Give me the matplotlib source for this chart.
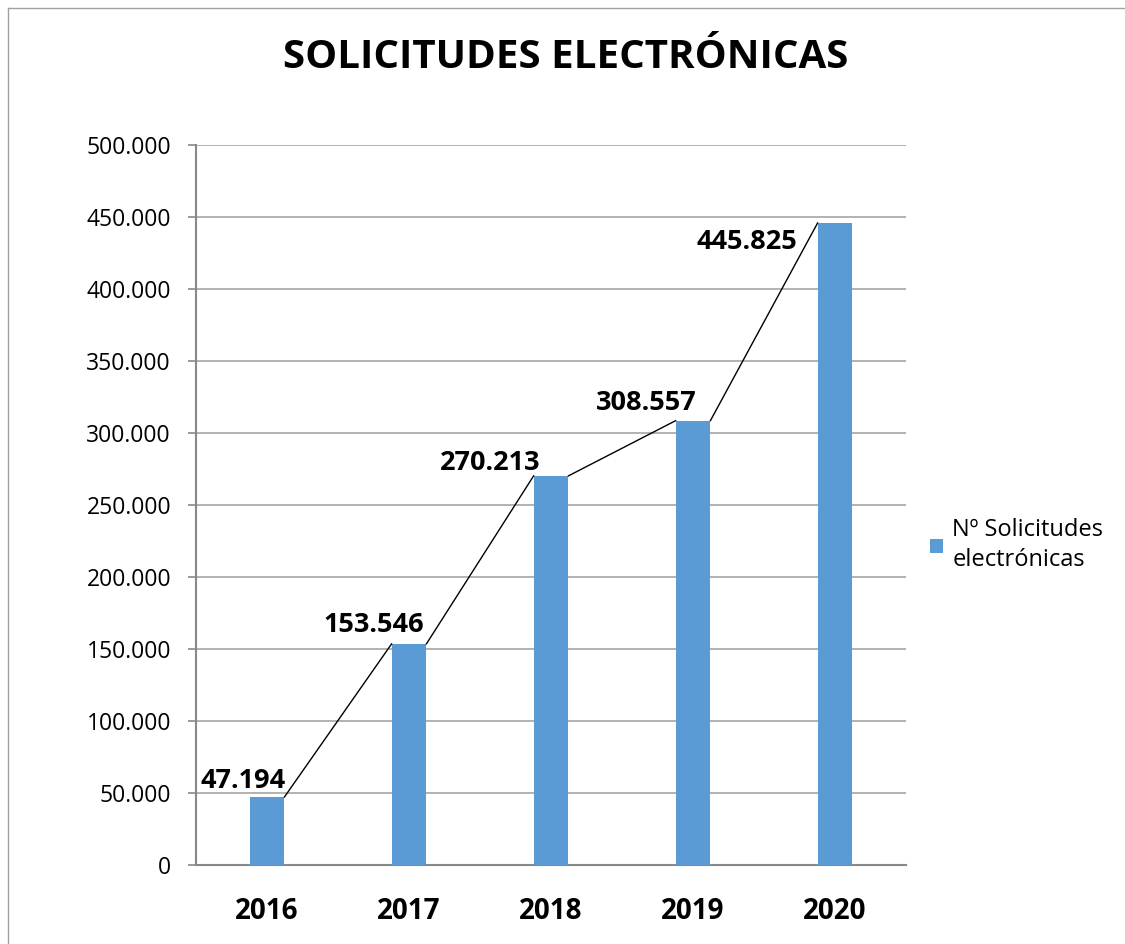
import matplotlib
matplotlib.use("Agg")
import matplotlib.pyplot as plt
from matplotlib.lines import Line2D
from matplotlib.patches import Patch
from matplotlib.ticker import FuncFormatter

years = ["2016", "2017", "2018", "2019", "2020"]
values = [47194, 153546, 270213, 308557, 445825]
label_texts = ["47.194", "153.546", "270.213", "308.557", "445.825"]
yticks = [0, 50000, 100000, 150000, 200000, 250000, 300000, 350000, 400000, 450000, 500000]
title = "SOLICITUDES ELECTRÓNICAS"
legend_label = "Nº Solicitudes\nelectrónicas"

plt.rcParams['font.family'] = ['Open Sans', 'DejaVu Sans']

BAR = "#5B9BD5"
GRID = "#A6A6A6"
AX = "#888888"

fig = plt.figure(figsize=(11.25, 9.44), dpi=100)
# partial chart-area border (top and left visible in the reference)
fig.add_artist(Line2D([8/1125, 1.0], [1 - 8/944, 1 - 8/944], transform=fig.transFigure,
                      color="#A0A0A0", lw=1.0))
fig.add_artist(Line2D([8/1125, 8/1125], [0.0, 1 - 8/944], transform=fig.transFigure,
                      color="#A0A0A0", lw=1.0))
ax = fig.add_axes([196/1125, 79/944, 710/1125, 720/944])

x = list(range(len(years)))
w = 0.245
ax.bar(x, values, width=w, color=BAR, zorder=3)

# series lines: right top of bar i to left top of bar i+1
for i in range(len(values) - 1):
    ax.plot([x[i] + w/2, x[i+1] - w/2], [values[i], values[i+1]], color="black", lw=1.0, zorder=4)

# data labels (manually placed like the original)
offsets = [(-0.17, 11100), (-0.25, 13200), (-0.43, 9000), (-0.33, 12500), (-0.62, -13200)]
for i, (t, v) in enumerate(zip(label_texts, values)):
    dx, dy = offsets[i]
    ax.text(x[i] + dx, v + dy, t, ha="center", va="center", fontsize=19.5, fontweight="bold",
            color="black", zorder=5)

ax.set_xlim(-0.5, 4.5)
ax.set_ylim(0, 500000)
ax.set_yticks(yticks)
ax.yaxis.set_major_formatter(FuncFormatter(lambda v, p: f"{int(v):,}".replace(",", ".")))
ax.set_xticks(x)
ax.set_xticklabels(years, fontsize=20, fontweight="bold")
ax.tick_params(axis="x", length=0, pad=23)
ax.tick_params(axis="y", length=6, width=1.2, color=AX, labelsize=16.5, pad=12)
ax.grid(axis="y", color=GRID, linewidth=1.2, zorder=0)
ax.set_axisbelow(True)
for s in ["top", "right"]:
    ax.spines[s].set_visible(False)
for s in ["left", "bottom"]:
    ax.spines[s].set_color(AX)
    ax.spines[s].set_linewidth(1.5)

fig.text(0.5025, 1 - 58/944, title, ha="center", va="center", fontsize=29, fontweight="bold")

h = Patch(facecolor=BAR, edgecolor="none")
fig.legend([h], [legend_label], loc="center left", bbox_to_anchor=(930/1125, 1 - 545/944),
           frameon=False, fontsize=17, handlelength=0.55, handleheight=0.55, handletextpad=0.4,
           borderaxespad=0, borderpad=0)
for t in fig.legends[0].get_texts():
    t.set_linespacing(1.35)

fig.savefig("out.png", dpi=100)
